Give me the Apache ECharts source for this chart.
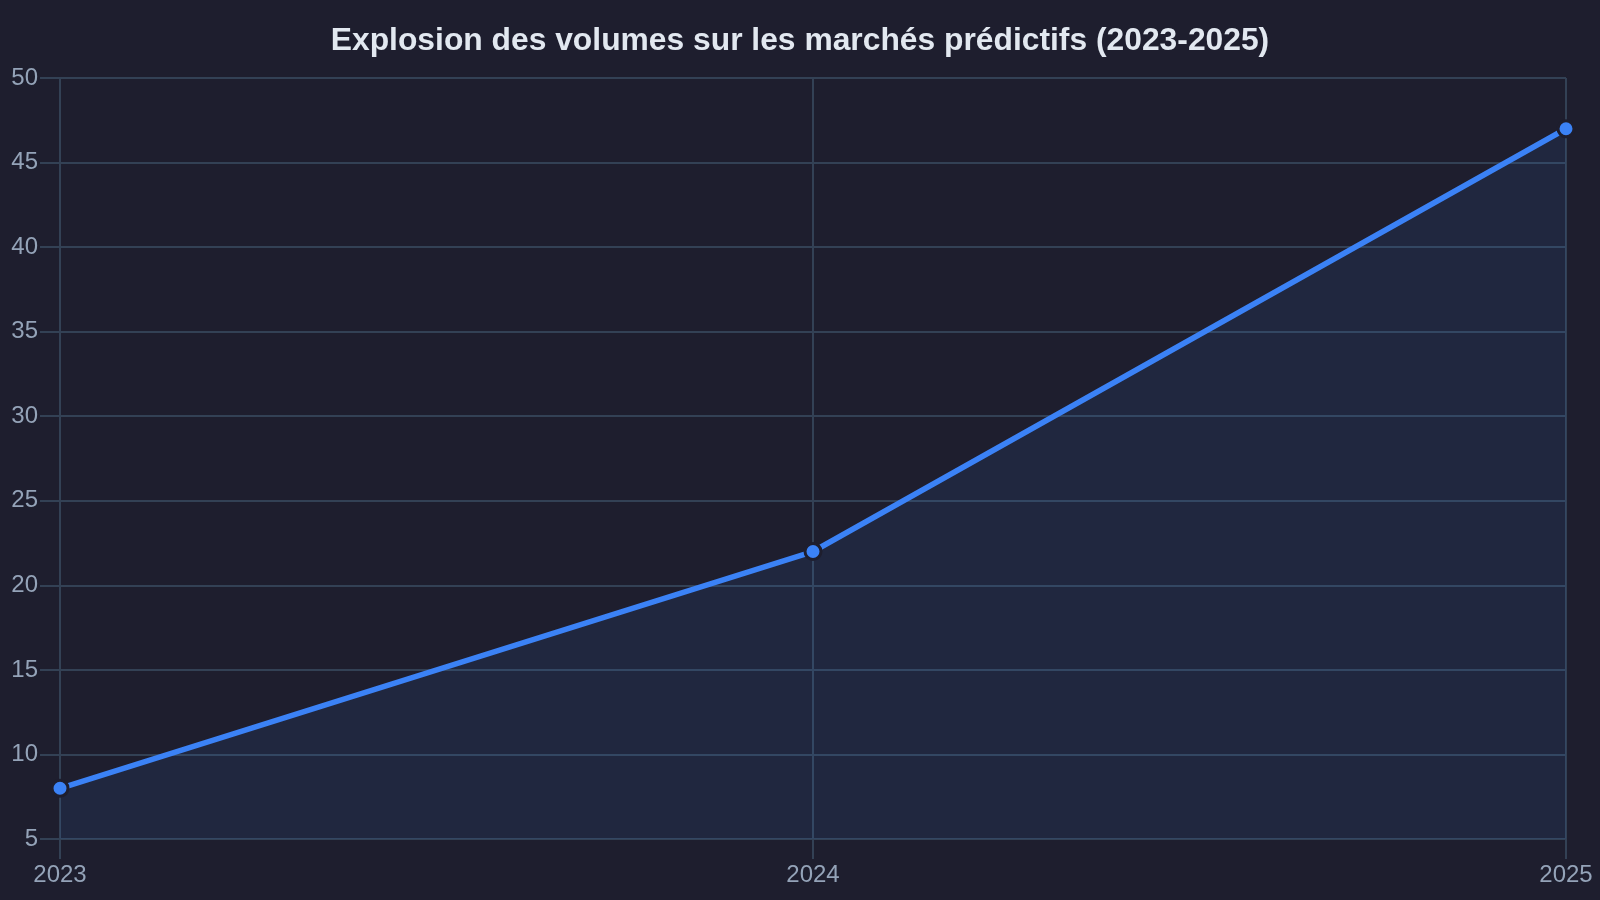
<!DOCTYPE html>
<html>
<head>
<meta charset="utf-8">
<script src="https://cdn.jsdelivr.net/npm/echarts@6/dist/echarts.min.js"></script>
<style>
html,body{margin:0;padding:0;background:#1e1e2e;}
#chart{width:1600px;height:900px;}
</style>
</head>
<body>
<div id="chart"></div>
<script>
const titleText = 'Explosion des volumes sur les marchés prédictifs (2023-2025)';
const years = ['2023', '2024', '2025'];
const volumes = [8, 22, 47];

const chart = echarts.init(document.getElementById('chart'));
const gridColor = '#334155';
chart.setOption({
  backgroundColor: '#1e1e2e',
  animation: false,
  title: {
    text: titleText,
    left: 'center',
    top: 20,
    textStyle: { color: '#e2e8f0', fontSize: 31.8, fontWeight: 'bold', fontFamily: 'Liberation Sans, Arial, sans-serif' }
  },
  grid: { left: 60, right: 34, top: 78, bottom: 61, containLabel: false },
  xAxis: {
    type: 'category',
    data: years,
    boundaryGap: false,
    axisLine: { show: true, lineStyle: { color: gridColor, width: 2 } },
    axisTick: { show: true, length: 20, lineStyle: { color: gridColor, width: 2 } },
    axisLabel: { color: '#94a3b8', fontSize: 24, margin: 24, fontFamily: 'Liberation Sans, Arial, sans-serif' },
    splitLine: { show: true, lineStyle: { color: gridColor, width: 2 } }
  },
  yAxis: {
    type: 'value',
    min: 5,
    max: 50,
    interval: 5,
    axisLine: { show: true, lineStyle: { color: gridColor, width: 2 } },
    axisTick: { show: true, length: 20, lineStyle: { color: gridColor, width: 2 } },
    axisLabel: { color: '#94a3b8', fontSize: 24, margin: 22, fontFamily: 'Liberation Sans, Arial, sans-serif' },
    splitLine: { show: true, lineStyle: { color: gridColor, width: 2 } }
  },
  series: [{
    type: 'line',
    data: volumes,
    symbol: 'circle',
    symbolSize: 16,
    showAllSymbol: true,
    itemStyle: { color: '#3b82f6', borderColor: '#1e1e2e', borderWidth: 3 },
    lineStyle: { color: '#3b82f6', width: 5.5 },
    areaStyle: { color: 'rgba(59,130,246,0.13)' }
  }]
});
</script>
</body>
</html>
